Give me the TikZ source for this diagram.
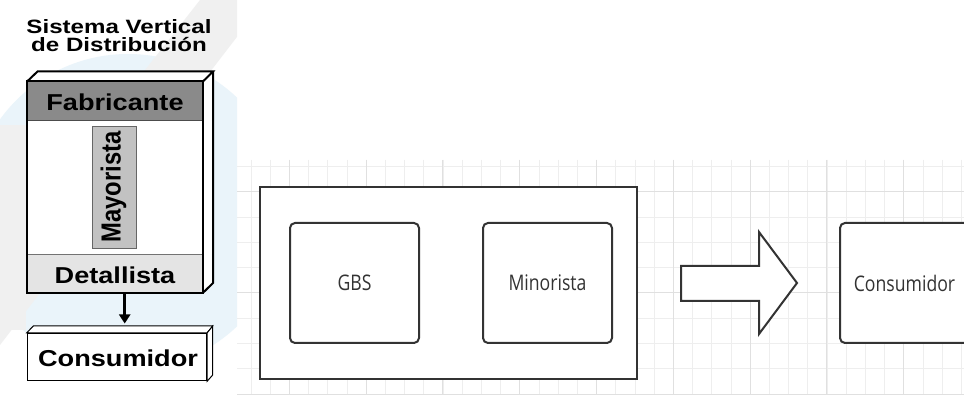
\documentclass[tikz,border=0pt]{standalone}
\usepackage{fontspec}
\newfontfamily\titlefont[FakeStretch=1.25]{Liberation Sans}
\newfontfamily\panelfont[FakeStretch=1.18]{Liberation Sans}
\newfontfamily\panelrot{Liberation Sans}
\newfontfamily\flowfont[FakeStretch=0.82]{Open Sans}
\usetikzlibrary{arrows.meta}

\definecolor{wmblue}{HTML}{EAF4FA}
\definecolor{wmgray}{HTML}{F0F0F0}
\definecolor{gridminor}{HTML}{EEEEEE}
\definecolor{gridmajor}{HTML}{E0E0E0}
\definecolor{topband}{HTML}{8A8A8A}
\definecolor{midbar}{HTML}{C2C2C2}
\definecolor{lowband}{HTML}{E4E4E4}
\definecolor{ink}{HTML}{333333}

\tikzset{
  panelline/.style={line width=2pt, draw=black, line join=miter},
  paneltext/.style={font=\panelfont\bfseries\fontsize{23}{25}\selectfont, inner sep=0pt, anchor=base},
  flowbox/.style={draw=ink, line width=2pt, fill=white, rounded corners=5pt,
    minimum width=129pt, minimum height=120pt, inner sep=0pt,
    font=\flowfont\fontsize{21.5}{24}\selectfont, text=ink},
  gridthin/.style={draw=gridminor, line width=0.8pt},
  gridthick/.style={draw=gridmajor, line width=1pt},
}

\begin{document}
\begin{tikzpicture}[x=1pt,y=-1pt]
\useasboundingbox (0,0) rectangle (964,395);
\fill[white] (0,0) rectangle (964,395);

% faint logo watermark behind the left panel
\begin{scope}
  \clip (0,0) rectangle (237,395);
  \fill[wmblue] (128,212) circle (158);
  \fill[wmgray] (0,255) -- (200,0) -- (250,0) -- (250,20) -- (0,345) -- cycle;
  \fill[wmgray] (0,125) -- (26,125) -- (26,330) -- (0,330) -- cycle;
\end{scope}

% ---------------- left panel ----------------
\node[font=\titlefont\bfseries\fontsize{19.3}{18.4}\selectfont, align=center,
      inner sep=0pt, anchor=base] (title) at (119,51.7)
  {Sistema Vertical\\de Distribución};

% 3-D box holding the three levels
\fill[white] (27.3,81.7) -- (37.5,71.5) -- (213,71.5) -- (213,283) -- (202.7,292.7) -- (27.3,292.7) -- cycle;
\node[fill=topband, minimum width=175.4pt, minimum height=38.3pt, inner sep=0pt] (fabband) at (115,100.85) {};
\node[fill=lowband, minimum width=175.4pt, minimum height=37.7pt, inner sep=0pt] (detband) at (115,273.85) {};
\draw[black!70, line width=0.8pt] (fabband.south west) -- (fabband.south east);
\draw[black!55, line width=0.8pt] (detband.north west) -- (detband.north east);
\node[fill=midbar, draw=black!60, line width=0.8pt, minimum width=44pt, minimum height=122.3pt, inner sep=0pt] (mayor) at (114.7,187.15) {};
\node[draw=none, minimum width=175.4pt, minimum height=211pt, inner sep=0pt] (vsd) at (115,187.2) {};
\draw[panelline] (vsd.north west) rectangle (vsd.south east);
\draw[panelline] (vsd.north west) -- (37.5,71.5) -- (213,71.5) -- (vsd.north east);
\draw[panelline] (213,71.5) -- (213,283) -- (vsd.south east);

\node[paneltext] (fab) at (115,110.7) {Fabricante};
\node[paneltext] (det) at (115,283.3) {Detallista};
\node[rotate=90, inner sep=0pt] (maytext) at (113.5,187)
  {\scalebox{1}[1.16]{\panelrot\bfseries\fontsize{23.8}{26}\selectfont Mayorista}};

% consumer box
\node[draw=black, line width=1pt, fill=white, minimum width=179.4pt, minimum height=47.4pt, inner sep=0pt] (cons) at (117,357) {};
\draw[black, line width=1pt, fill=white] (cons.north west) -- (33.3,326) -- (212.7,326) -- (cons.north east) -- cycle;
\draw[black, line width=1pt, fill=white] (cons.north east) -- (212.7,326) -- (212.7,375) -- (cons.south east) -- cycle;
\node[paneltext] (constext) at (118,366.7) {Consumidor};

\coordinate (arrfrom) at (124.7,292.7);
\coordinate (arrto) at (124.7,323.5);
\draw[black, line width=2.6pt, -{Triangle[width=11pt,length=9pt]}] (arrfrom) -- (arrto);

% ---------------- right panel: grid ----------------
\foreach \k in {0,...,37}
  \draw[gridthin] ({250.9+19.2*\k},160) -- ({250.9+19.2*\k},395);
\foreach \k in {0,...,9}
  \draw[gridthin] (237,{166.4+25.3*\k}) -- (964,{166.4+25.3*\k});
\foreach \k in {2,6,...,34}
  \draw[gridthick] ({250.9+19.2*\k},160) -- ({250.9+19.2*\k},395);
\foreach \k in {1,5,9}
  \draw[gridthick] (237,{166.4+25.3*\k}) -- (964,{166.4+25.3*\k});

% grouping frame
\node[draw=ink, line width=2.6pt, fill=white, minimum width=377pt, minimum height=192pt, inner sep=0pt] (group) at (448.5,283) {};
\node[flowbox] (gbs) at (354.5,283) {GBS};
\node[flowbox] (mino) at (547.5,283) {Minorista};

% block arrow
\coordinate (ba1) at (681,266);
\coordinate (ba2) at (759,266);
\coordinate (ba3) at (759,232);
\coordinate (batip) at (797,283);
\coordinate (ba5) at (759,334);
\coordinate (ba6) at (759,301);
\coordinate (ba7) at (681,301);
\draw[draw=ink, line width=2pt, fill=white, line join=miter]
  (ba1) -- (ba2) -- (ba3) -- (batip) -- (ba5) -- (ba6) -- (ba7) -- cycle;

\node[flowbox] (consumer) at (904.5,283) {Consumidor};
\end{tikzpicture}
\end{document}
